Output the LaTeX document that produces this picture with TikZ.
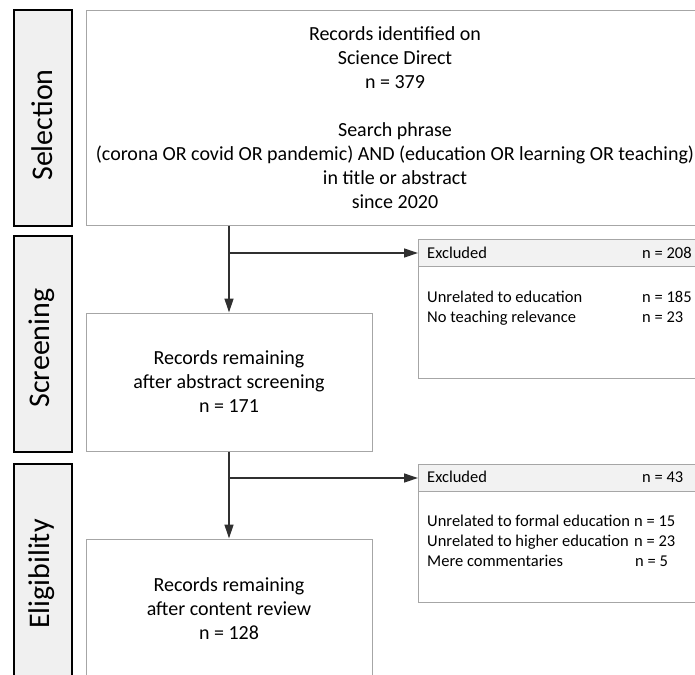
\documentclass[tikz,border=0pt]{standalone}
\usepackage{fontspec}
\setmainfont{Carlito}
\usetikzlibrary{arrows.meta}
\definecolor{stagefill}{HTML}{F0F0F0}
\definecolor{boxline}{HTML}{A6A6A6}
\definecolor{arrowline}{HTML}{303030}
\definecolor{headfill}{HTML}{F2F2F2}
\tikzset{
  stagebox/.style={draw=black, line width=2.4pt, fill=stagefill, inner sep=0pt, minimum width=58pt},
  stagetext/.style={rotate=90, inner sep=0pt, font=\fontsize{30}{36}\selectfont},
  mainbox/.style={draw=boxline, line width=1pt, fill=white, inner sep=0pt, align=center, font=\fontsize{20}{24}\selectfont},
  exclbox/.style={draw=boxline, line width=1pt, fill=white, inner sep=0pt, anchor=north west},
  exclhead/.style={draw=boxline, line width=1pt, fill=headfill, inner sep=0pt, anchor=north west},
  excltext/.style={inner sep=0pt, anchor=base west, font=\fontsize{16.5}{20}\selectfont},
  flow/.style={draw=arrowline, line width=1.3pt},
  flowarrow/.style={flow, -{Triangle[length=14pt,width=9pt]}},
}
\begin{document}
\begin{tikzpicture}[x=1pt, y=-1pt]
\useasboundingbox (0,0) rectangle (695,674);
\clip (0,0) rectangle (695,674);

% stage boxes
\node[stagebox, minimum height=216pt] (s1) at (43,118) {};
\node[stagebox, minimum height=216pt] (s2) at (43,344) {};
\node[stagebox, minimum height=226pt] (s3) at (43,577) {};
\node[stagetext] (t1) at (42,125) {Selection};
\node[stagetext] (t2) at (42,348) {Screening};
\node[stagetext] (t3) at (42,574) {Eligibility};

% main boxes
\node[mainbox, minimum width=618pt, minimum height=214pt] (b1) at (395,118)
  {Records identified on\\Science Direct\\n = 379\\[24pt]Search phrase\\(corona OR covid OR pandemic) AND (education OR learning OR teaching)\\in title or abstract\\since 2020};
\node[mainbox, minimum width=286pt, minimum height=138pt] (b2) at (229,382)
  {Records remaining\\after abstract screening\\n = 171};
\node[mainbox, minimum width=286pt, minimum height=140pt] (b3) at (229,609)
  {Records remaining\\after content review\\n = 128};

% exclusion box 1
\node[exclbox, minimum width=300pt, minimum height=139pt] (e1) at (418,239) {};
\node[exclhead, minimum width=300pt, minimum height=27pt] (h1) at (418,239) {};
\node[excltext] (h1l) at (427,258) {Excluded};
\node[excltext] (h1n) at (642,258) {n = 208};
\node[excltext] (e1a) at (427,302) {Unrelated to education};
\node[excltext] (e1an) at (642,302) {n = 185};
\node[excltext] (e1b) at (427,322) {No teaching relevance};
\node[excltext] (e1bn) at (642,322) {n = 23};

% exclusion box 2
\node[exclbox, minimum width=300pt, minimum height=138pt] (e2) at (418,464) {};
\node[exclhead, minimum width=300pt, minimum height=27pt] (h2) at (418,464) {};
\node[excltext] (h2l) at (427,482) {Excluded};
\node[excltext] (h2n) at (642,482) {n = 43};
\node[excltext] (e2a) at (427,526) {Unrelated to formal education};
\node[excltext] (e2an) at (634,526) {n = 15};
\node[excltext] (e2b) at (427,546) {Unrelated to higher education};
\node[excltext] (e2bn) at (634,546) {n = 23};
\node[excltext] (e2c) at (427,566) {Mere commentaries};
\node[excltext] (e2cn) at (635,566) {n = 5};

% connectors
\coordinate (o1) at (b2.north |- b1.south);
\coordinate (j1) at (b2.north |- h1.west);
\coordinate (j2) at (b2.south |- h2.west);
\draw[flowarrow] (o1) -- (b2.north);
\draw[flowarrow] (j1) -- (h1.west);
\draw[flowarrow] (b2.south) -- (b3.north);
\draw[flowarrow] (j2) -- (h2.west);
\end{tikzpicture}
\end{document}
